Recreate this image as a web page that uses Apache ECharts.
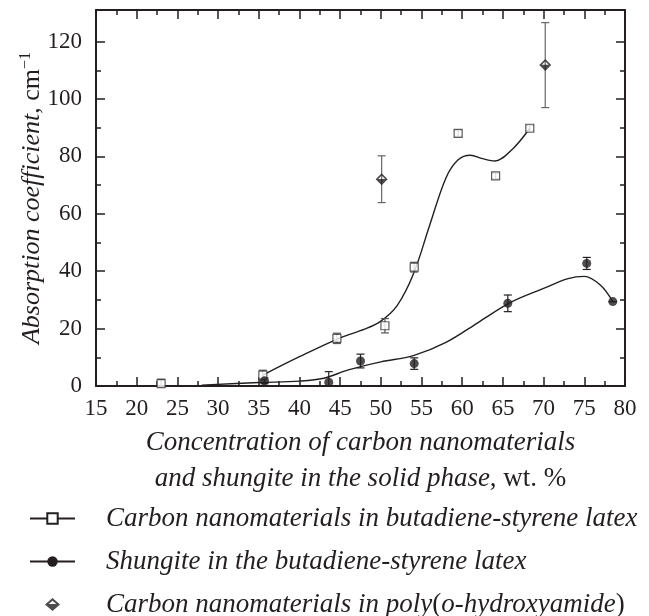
<!DOCTYPE html>
<html>
<head>
<meta charset="utf-8">
<script src="https://cdn.jsdelivr.net/npm/echarts@6/dist/echarts.min.js"></script>
<style>
html, body { margin: 0; padding: 0; background: #fff; }
#chart { width: 649px; height: 616px; }
</style>
</head>
<body>
<div id="chart"></div>
<script>
// tick values
var xTickLabels = [15, 20, 25, 30, 35, 40, 45, 50, 55, 60, 65, 70, 75, 80];
var xMinorTicks = [17.5, 22.5, 27.5, 32.5, 37.5, 42.5, 47.5, 52.5, 57.5, 62.5, 67.5, 72.5, 77.5];
var yTickLabels = [0, 20, 40, 60, 80, 100, 120];
var yMinorTicks = [10, 30, 50, 70, 90, 110];

// carbon nanomaterials in latex: measured points [x, y] and +/- error
var latexCnmPoints = [[23, 0.8], [35.5, 3.8], [44.6, 16.6], [50.5, 21.0], [54.1, 41.4], [59.5, 88.0], [64.1, 73.2], [68.3, 89.8]];
var latexCnmErr = [1.6, 1.7, 1.8, 2.5, 1.7, 1.0, 1.0, 1.0];
// fitted curve
var latexCnmCurve = [[35.5, 3.8], [40, 10.2], [45, 16.8], [48, 19.8], [50, 22.6], [52, 28.0], [54, 39.0], [56, 56.0], [58, 72.5], [59.5, 78.8], [61, 80.4], [62.5, 79.2], [64, 78.4], [66.2, 82.6], [68.3, 89.8]];

// shungite in latex
var shungitePoints = [[35.7, 1.8], [43.6, 1.3], [47.5, 8.7], [54.1, 7.8], [65.6, 28.8], [75.3, 42.7], [78.5, 29.4]];
var shungiteErr = [1.0, 3.7, 2.4, 2.0, 2.9, 2.1, 0];
var shungiteCurve = [[28, 0.3], [35, 1.2], [40, 1.7], [43, 2.7], [46, 5.6], [50, 8.4], [54, 10.6], [58, 15.2], [62, 22.2], [66, 29.2], [70, 34.0], [73, 37.4], [75, 38.2], [77, 35.1], [78.5, 29.4]];

// carbon nanomaterials in poly(o-hydroxyamide)
var pohaPoints = [[50.1, 72.0], [70.2, 111.8]];
var pohaLow = [63.9, 97.0];
var pohaHigh = [80.2, 126.6];

var NAME_CNM = 'Carbon nanomaterials in butadiene-styrene latex';
var NAME_SHU = 'Shungite in the butadiene-styrene latex';
var NAME_POHA = 'Carbon nanomaterials in poly(o-hydroxyamide)';

var INK = '#231f20';
var FONT = '"Liberation Serif", "DejaVu Serif", serif';
// half filled diamond: filled lower half, outlined upper half
var HALF_DIAMOND = 'path://M0 10 L20 10 L10 20 Z M0 10 L10 0 L20 10 Z M15.76 9.3 L10 3.54 L4.24 9.3 Z';
// same glyph in a 45x13 box so the legend keeps it full height
var HALF_DIAMOND_LEGEND = 'path://M0 6.5 L0.01 6.5 M44.99 6.5 L45 6.5 ' +
  'M15 6.5 L30 6.5 L22.5 13 Z M15 6.5 L22.5 0 L30 6.5 Z M26.37 6 L22.5 2.65 L18.63 6 Z';

function errorBars(points, lows, highs, color) {
  var data = points.map(function (p, i) { return [p[0], lows[i], highs[i]]; });
  return {
    type: 'custom',
    data: data,
    z: 2,
    silent: true,
    clip: true,
    encode: { x: 0, y: [1, 2] },
    renderItem: function (params, api) {
      var top = api.coord([api.value(0), api.value(2)]);
      var bot = api.coord([api.value(0), api.value(1)]);
      var w = 4;
      var st = { stroke: color, lineWidth: 1.2 };
      return {
        type: 'group',
        children: [
          { type: 'line', shape: { x1: top[0], y1: top[1], x2: bot[0], y2: bot[1] }, style: st },
          { type: 'line', shape: { x1: top[0] - w, y1: top[1], x2: top[0] + w, y2: top[1] }, style: st },
          { type: 'line', shape: { x1: bot[0] - w, y1: bot[1], x2: bot[0] + w, y2: bot[1] }, style: st }
        ]
      };
    }
  };
}

function xAxisOf(pos, ticks, len, labels) {
  return {
    type: 'value', position: pos, min: 15, max: 80,
    axisLine: { show: len > 6, onZero: false, lineStyle: { color: INK, width: 2 } },
    axisTick: { show: true, inside: true, length: len, customValues: ticks, lineStyle: { color: INK, width: 1.5 } },
    axisLabel: { show: labels, customValues: ticks, margin: 11, color: INK, fontFamily: FONT, fontSize: 23 },
    splitLine: { show: false }
  };
}
function yAxisOf(pos, ticks, len, labels) {
  return {
    type: 'value', position: pos, min: 0, max: 131,
    axisLine: { show: len > 6, onZero: false, lineStyle: { color: INK, width: 2 } },
    axisTick: { show: true, inside: true, length: len, customValues: ticks, lineStyle: { color: INK, width: 1.5 } },
    axisLabel: { show: labels, customValues: ticks, margin: 14, color: INK, fontFamily: FONT, fontSize: 23 },
    splitLine: { show: false }
  };
}

var xAxes = [
  xAxisOf('bottom', xTickLabels, 9, true),
  xAxisOf('bottom', xMinorTicks, 5, false),
  xAxisOf('top', xTickLabels, 9, false),
  xAxisOf('top', xMinorTicks, 5, false)
];
xAxes[0].name = '{i|Concentration of carbon nanomaterials}\n{i|and shungite in the solid phase}{r|, wt. %}';
xAxes[0].nameLocation = 'middle';
xAxes[0].nameGap = 34;
xAxes[0].nameTextStyle = {
  color: INK, fontFamily: FONT, fontSize: 27, lineHeight: 36,
  rich: {
    i: { fontStyle: 'italic', fontFamily: FONT, fontSize: 27, lineHeight: 36, color: INK },
    r: { fontFamily: FONT, fontSize: 27, lineHeight: 36, color: INK }
  }
};

var yAxes = [
  yAxisOf('left', yTickLabels, 9, true),
  yAxisOf('left', yMinorTicks, 5, false),
  yAxisOf('right', yTickLabels, 9, false),
  yAxisOf('right', yMinorTicks, 5, false)
];
yAxes[0].name = '{i|Absorption coefficient}{r|, cm}{s|\u22121}';
yAxes[0].nameLocation = 'middle';
yAxes[0].nameGap = 50;
yAxes[0].nameMoveOverlap = false;
yAxes[0].nameTextStyle = {
  color: INK, fontFamily: FONT, fontSize: 26,
  rich: {
    i: { fontStyle: 'italic', fontFamily: FONT, fontSize: 26, color: INK },
    r: { fontFamily: FONT, fontSize: 26, color: INK },
    s: { fontFamily: FONT, fontSize: 16, color: INK, verticalAlign: 'top', padding: [0, 0, 12, 0] }
  }
};

var chart = echarts.init(document.getElementById('chart'));
chart.setOption({
  animation: false,
  backgroundColor: '#fff',
  grid: { left: 96, right: 24, top: 10, bottom: 230, containLabel: false, outerBoundsMode: 'none' },
  xAxis: xAxes,
  yAxis: yAxes,
  legend: {
    orient: 'vertical',
    left: 29,
    top: 505,
    height: 130,
    padding: 0,
    itemWidth: 45,
    itemHeight: 13,
    itemGap: 16,
    selectedMode: false,
    data: [
      { name: NAME_CNM },
      { name: NAME_SHU },
      { name: NAME_POHA, icon: HALF_DIAMOND_LEGEND, itemStyle: { color: INK, borderWidth: 0 } }
    ],
    lineStyle: { width: 2 },
    formatter: function (name) {
      if (name === NAME_POHA) {
        return '{g| }{i|Carbon nanomaterials in poly}{r|(}{i|o-hydroxyamide}{r|)}';
      }
      return '{g| }{i|' + name + '}';
    },
    textStyle: {
      color: INK, fontFamily: FONT, fontSize: 27, lineHeight: 20,
      rich: {
        g: { width: 26 },
        i: { fontStyle: 'italic', fontFamily: FONT, fontSize: 27, lineHeight: 20, color: INK },
        r: { fontFamily: FONT, fontSize: 27, lineHeight: 20, color: INK }
      }
    }
  },
  series: [
    {
      name: NAME_CNM, type: 'line', data: latexCnmCurve, smooth: 0.35,
      symbol: 'emptyRect', showSymbol: false, z: 1, silent: true,
      itemStyle: { color: INK }, lineStyle: { color: INK, width: 1.4 }
    },
    {
      name: NAME_SHU, type: 'line', data: shungiteCurve, smooth: 0.35,
      symbol: 'circle', showSymbol: false, z: 1, silent: true,
      itemStyle: { color: INK }, lineStyle: { color: INK, width: 1.4 }
    },
    errorBars(latexCnmPoints,
      latexCnmPoints.map(function (p, i) { return p[1] - latexCnmErr[i]; }),
      latexCnmPoints.map(function (p, i) { return p[1] + latexCnmErr[i]; }), '#555'),
    errorBars(shungitePoints,
      shungitePoints.map(function (p, i) { return p[1] - shungiteErr[i]; }),
      shungitePoints.map(function (p, i) { return p[1] + shungiteErr[i]; }), INK),
    errorBars(pohaPoints, pohaLow, pohaHigh, '#666'),
    {
      name: 'cnm points', type: 'scatter', data: latexCnmPoints, symbol: 'rect', symbolSize: 8, z: 3,
      itemStyle: { color: '#fff', borderColor: '#333', borderWidth: 1.2 }
    },
    {
      name: 'shungite points', type: 'scatter', data: shungitePoints, symbol: 'circle', symbolSize: 9, z: 3,
      itemStyle: { color: INK }
    },
    {
      name: NAME_POHA, type: 'scatter', data: pohaPoints, symbol: HALF_DIAMOND, symbolSize: 12, z: 3,
      itemStyle: { color: INK, borderWidth: 0 }
    }
  ]
});
</script>
</body>
</html>
